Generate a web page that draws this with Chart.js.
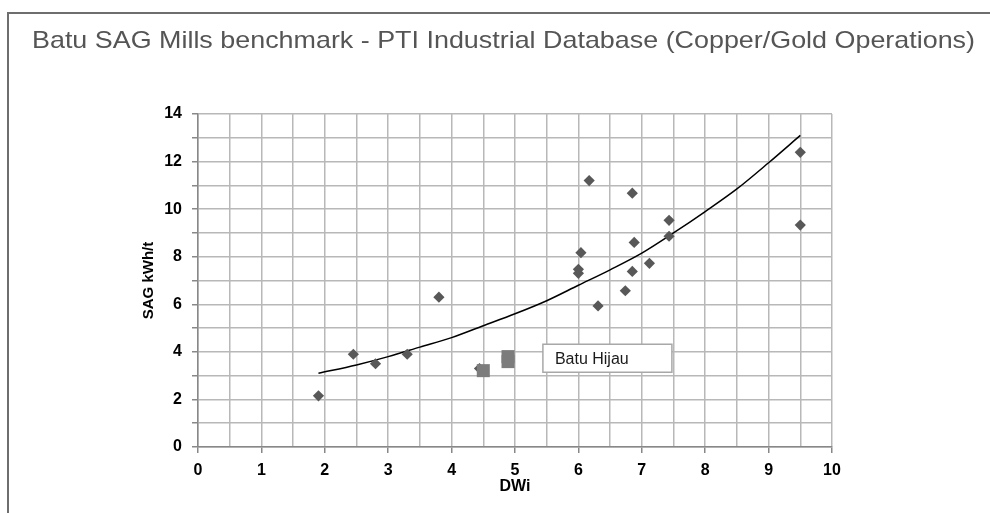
<!DOCTYPE html>
<html>
<head>
<meta charset="utf-8">
<script src="https://cdn.jsdelivr.net/npm/chart.js@4.4.1/dist/chart.umd.min.js"></script>
<style>
  html, body { margin: 0; padding: 0; background: #fff; overflow: hidden; }
  #wrap { position: relative; width: 990px; height: 513px; }
  #frame {
    position: absolute; left: 7px; top: 12px; width: 1000px; height: 520px;
    border-top: 2px solid #6e6e6e; border-left: 2px solid #6e6e6e;
    pointer-events: none;
  }
  #title {
    position: absolute; left: 32px; top: 28px; white-space: nowrap;
    font: 24px/24px "Liberation Sans", Arial, sans-serif; color: #555;
    transform-origin: 0 0;
  }
  canvas { position: absolute; left: 0; top: 0; }
</style>
</head>
<body>
<div id="wrap">
  <canvas id="chart" width="990" height="513"></canvas>
  <div id="frame"></div>
  <span id="title">Batu SAG Mills benchmark - PTI Industrial Database (Copper/Gold Operations)</span>
</div>
<script>
// benchmark operations (diamonds)
const dwi = [1.9, 2.45, 2.8, 3.3, 3.8, 4.44, 6.0, 6.0, 6.04, 6.17, 6.31, 6.74, 6.85, 6.85, 6.88, 7.12, 7.43, 7.43, 9.5, 9.5];
const sag = [2.15, 3.9, 3.5, 3.9, 6.3, 3.3, 7.3, 7.47, 8.17, 11.2, 5.93, 6.57, 10.67, 7.38, 8.6, 7.72, 9.53, 8.86, 12.39, 9.33];
// Batu Hijau (squares)
const hijauDwi = [4.5, 4.89, 4.89];
const hijauSag = [3.21, 3.59, 3.8];
// trend line
const trendDwi = [1.9, 2.5, 3, 3.5, 4, 4.5, 5, 5.5, 6, 6.5, 7, 7.5, 8, 8.5, 9, 9.5];
const trendSag = [3.1, 3.45, 3.8, 4.2, 4.6, 5.1, 5.6, 6.15, 6.8, 7.45, 8.15, 9.0, 9.9, 10.85, 11.95, 13.1];
const xTicks = [0, 1, 2, 3, 4, 5, 6, 7, 8, 9, 10];
const yTicks = [0, 2, 4, 6, 8, 10, 12, 14];

const pts = (xs, ys) => xs.map((x, i) => ({ x: x, y: ys[i] }));
const fontFam = "'Liberation Sans', Arial, sans-serif";

// the original title is stretched sideways: fit it to its width (~943px)
const title = document.getElementById("title");
title.style.transform = "scaleX(" + (943 / title.getBoundingClientRect().width) + ")";

const labelBox = {
  id: "labelBox",
  afterDatasetsDraw(chart, args, opt) {
    const { ctx, scales } = chart;
    const x = scales.x.getPixelForValue(opt.x),
      y = scales.y.getPixelForValue(opt.y);
    ctx.save();
    ctx.fillStyle = "#fff";
    ctx.strokeStyle = "#a8a8a8";
    ctx.lineWidth = 1.5;
    ctx.fillRect(x, y, opt.w, opt.h);
    ctx.strokeRect(x, y, opt.w, opt.h);
    ctx.fillStyle = "#1a1a1a";
    ctx.font = "16px " + fontFam;
    ctx.textBaseline = "middle";
    ctx.fillText(opt.text, x + 12, y + opt.h / 2 + 1);
    ctx.restore();
  },
};

new Chart(document.getElementById("chart"), {
  type: "scatter",
  data: {
    datasets: [
      {
        label: "Batu Hijau",
        data: pts(hijauDwi, hijauSag),
        pointStyle: "rect",
        pointRadius: 9.2,
        backgroundColor: "#7c7c7c",
        borderColor: "#7c7c7c",
        borderWidth: 0,
      },
      {
        label: "PTI database",
        data: pts(dwi, sag),
        pointStyle: "rectRot",
        pointRadius: 5.6,
        backgroundColor: "#585858",
        borderColor: "#585858",
        borderWidth: 0,
      },
      {
        label: "Trend",
        type: "line",
        data: pts(trendDwi, trendSag),
        borderColor: "#000",
        borderWidth: 1.5,
        pointRadius: 0,
        cubicInterpolationMode: "monotone",
        fill: false,
      },
    ],
  },
  options: {
    responsive: false,
    animation: false,
    events: [],
    layout: { padding: { left: 32, right: 158, top: 114, bottom: 0 } },
    plugins: {
      legend: { display: false },
      tooltip: { enabled: false },
      title: { display: false },
      labelBox: { text: "Batu Hijau", x: 5.44, y: 4.32, w: 129, h: 28 },
    },
    scales: {
      x: {
        type: "linear",
        min: 0,
        max: 10,
        afterFit: (s) => (s.height = 66),
        ticks: {
          stepSize: 0.5,
          autoSkip: false,
          maxRotation: 0,
          padding: 8,
          color: "#000",
          font: { family: fontFam, size: 16, weight: "bold" },
          callback: (v) => (xTicks.includes(v) ? String(v) : ""),
        },
        grid: {
          color: "#b8b8b8",
          lineWidth: 1.5,
          tickLength: 6,
          tickColor: (c) => (c.tick && Number.isInteger(c.tick.value) ? "#888" : "rgba(0,0,0,0)"),
        },
        border: { color: "#888", width: 1.5 },
        title: {
          display: true,
          text: "DWi",
          color: "#000",
          font: { family: fontFam, size: 16, weight: "bold" },
          padding: { top: 0, bottom: 17 },
        },
      },
      y: {
        min: 0,
        max: 14,
        afterFit: (s) => (s.width = 166),
        ticks: {
          stepSize: 1,
          autoSkip: false,
          padding: 10,
          color: "#000",
          font: { family: fontFam, size: 16, weight: "bold" },
          callback: (v) => (yTicks.includes(v) ? String(v) : ""),
        },
        grid: { color: "#b8b8b8", lineWidth: 1.5, tickLength: 6, tickColor: "#888" },
        border: { color: "#888", width: 1.5 },
        title: {
          display: true,
          text: "SAG kWh/t",
          color: "#000",
          font: { family: fontFam, size: 15, weight: "bold" },
          padding: { top: 108, bottom: 0 },
        },
      },
    },
  },
  plugins: [labelBox],
});
</script>
</body>
</html>
